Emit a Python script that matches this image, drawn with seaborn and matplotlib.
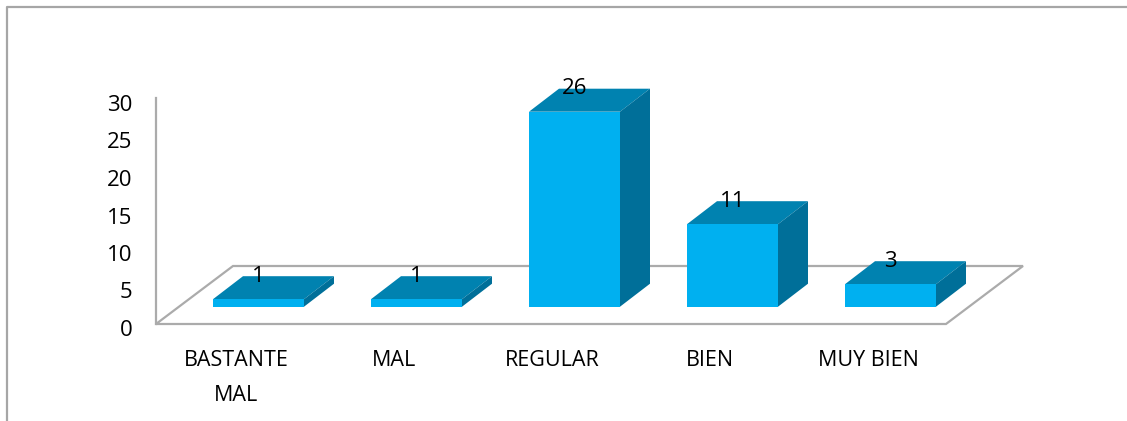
import seaborn as sns, matplotlib.pyplot as plt, pandas as pd
from matplotlib.lines import Line2D
from matplotlib.patches import Polygon

categorias = ['BASTANTE\nMAL', 'MAL', 'REGULAR', 'BIEN', 'MUY BIEN']
valores    = [1, 1, 26, 11, 3]
yticks     = [0, 5, 10, 15, 20, 25, 30]

W, H    = 1127, 421
FRONT   = '#00B0F0'
TOP     = '#0082B0'
SIDE    = '#006F99'
GRIS    = '#ABABAB'
PX_X    = 158.0     # px por categoria
PX_Y    = 7.5       # px por unidad
BASE    = 2.84      # el piso del grafico 3D queda por encima del 0
DX, DY  = 30/PX_X, 23/PX_Y   # profundidad de la barra

sns.set_theme(style='white')
plt.rcParams['font.family'] = ['Open Sans', 'DejaVu Sans']

fig = plt.figure(figsize=(W/100, H/100), dpi=100, facecolor='white')
# ejes: x 156..1023 px, y=0 en 328 px, tope en 98 px
ax = fig.add_axes([156/W, 1-328/H, (1023-156)/W, (328-98)/H])

df = pd.DataFrame({'cat': categorias, 'val': valores})
sns.barplot(data=df, x='cat', y='val', color=FRONT, saturation=1, width=91/PX_X,
            linewidth=0, ax=ax, zorder=4)

ax.set_xlim((156-258.5)/PX_X, (1023-258.5)/PX_X)
ax.set_ylim(0, (328-98)/PX_Y)

# caras de arriba y de costado
for p in list(ax.patches):
    p.set_y(BASE)
    x0, x1 = p.get_x(), p.get_x()+p.get_width()
    y0, y1 = BASE, BASE+p.get_height()
    ax.add_patch(Polygon([(x0,y1),(x1,y1),(x1+DX,y1+DY),(x0+DX,y1+DY)], fc=TOP, ec='none', zorder=3, clip_on=False))
    ax.add_patch(Polygon([(x1,y0),(x1,y1),(x1+DX,y1+DY),(x1+DX,y0+DY)], fc=SIDE, ec='none', zorder=3, clip_on=False))

# piso
piso_y0, piso_y1 = (328-324)/PX_Y, (328-266)/PX_Y
xl, xr = ax.get_xlim()
px = 77/PX_X
ax.plot([xl, xl+px, xr, xr-px, xl], [piso_y0, piso_y1, piso_y1, piso_y0, piso_y0],
        color=GRIS, lw=1.6, zorder=1, clip_on=False, solid_joinstyle='miter')

sns.despine(ax=ax, left=False, bottom=True)
ax.spines['left'].set_color(GRIS)
ax.spines['left'].set_linewidth(1.6)
ax.spines['left'].set_bounds(piso_y0, ax.get_ylim()[1])

ax.set_xlabel(''); ax.set_ylabel('')
ax.set_yticks(yticks)
ax.set_xticks([i-0.14 for i in range(len(categorias))], categorias)
ax.tick_params(axis='y', length=0, pad=17, labelsize=16, labelcolor='black')
ax.tick_params(axis='x', length=0, pad=16, labelsize=15.5, labelcolor='black')
for t in ax.get_xticklabels():
    t.set_linespacing(1.85)

ax.bar_label(ax.containers[0], labels=[str(v) for v in valores], padding=9,
             fontsize=16, color='black', zorder=6)

# marco exterior recortado
fig.add_artist(Line2D([7/W, 7/W, 1], [0, 1-7/H, 1-7/H], color='#A6A6A6', lw=1.6))

fig.savefig('out.png', dpi=100, facecolor='white')
